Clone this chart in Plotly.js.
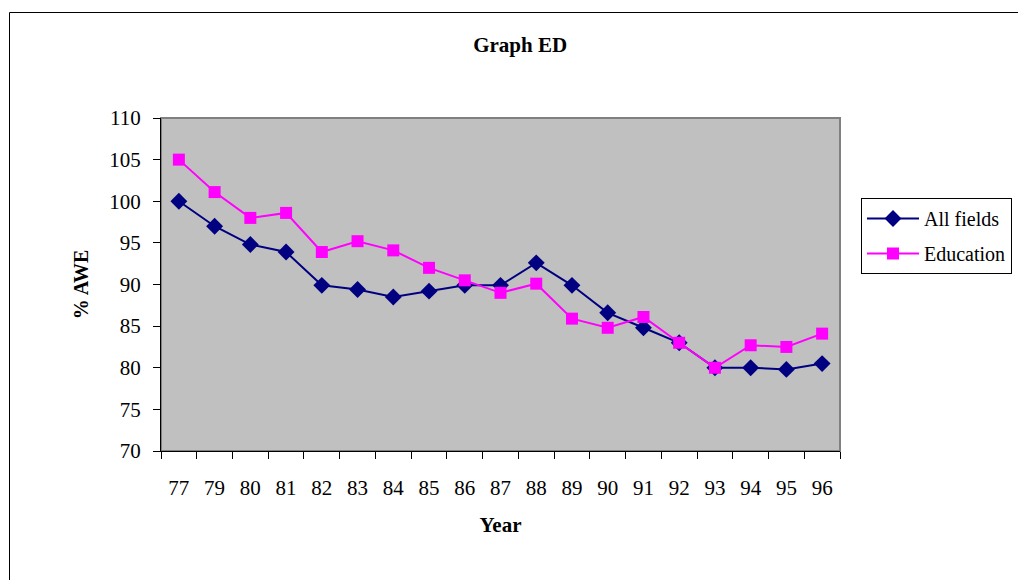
<!DOCTYPE html>
<html>
<head>
<meta charset="utf-8">
<script src="https://cdn.plot.ly/plotly-3.0.1.min.js"></script>
<style>
html,body{margin:0;padding:0;background:#fff;}
#chart{width:1018px;height:580px;}
</style>
</head>
<body>
<div id="chart"></div>
<script>
const years = ['77','79','80','81','82','83','84','85','86','87','88','89','90','91','92','93','94','95','96'];
const allFields = [100, 97.0, 94.8, 93.9, 89.9, 89.4, 88.5, 89.2, 89.9, 89.9, 92.6, 89.9, 86.6, 84.8, 83.0, 80.0, 80.0, 79.8, 80.5];
const education = [105, 101.1, 98.0, 98.6, 93.9, 95.2, 94.1, 92.0, 90.5, 89.0, 90.1, 85.9, 84.8, 86.1, 83.0, 80.0, 82.7, 82.5, 84.1];

const FONT = '"Liberation Serif", "Times New Roman", serif';

const traces = [
  {
    x: years, y: allFields, name: 'All fields', type: 'scatter', mode: 'lines+markers',
    legendgroup: 'a',
    line: {color: '#000080', width: 2},
    marker: {symbol: 'diamond', color: '#000080', size: 13}
  },
  {
    x: years, y: education, name: 'Education', type: 'scatter', mode: 'lines+markers',
    legendgroup: 'b',
    line: {color: '#FF00FF', width: 2},
    marker: {symbol: 'square', color: '#FF00FF', size: 12}
  }
];

const layout = {
  width: 1018, height: 580,
  margin: {l: 161, r: 178, t: 118, b: 129, autoexpand: false},
  paper_bgcolor: '#ffffff',
  plot_bgcolor: '#C0C0C0',
  font: {family: FONT, size: 21, color: '#000'},
  title: {
    text: 'Graph ED', font: {family: FONT, size: 21, color: '#000', weight: 'bold'},
    xref: 'container', x: 0.511, xanchor: 'center',
    yref: 'container', y: 1 - 45/580, yanchor: 'middle'
  },
  xaxis: {
    type: 'category',
    range: [-0.5, 18.5],
    showgrid: false, zeroline: false,
    showline: true, linecolor: '#000', linewidth: 1,
    ticks: 'outside', ticklen: 7, tickcolor: '#000', tickson: 'boundaries',
    tickfont: {family: FONT, size: 21},
    ticklabelstandoff: 18,
    title: {text: 'Year', font: {family: FONT, size: 21, weight: 'bold'}, standoff: 18},
    fixedrange: true
  },
  yaxis: {
    range: [70, 110], dtick: 5, tick0: 70,
    showgrid: false, zeroline: false,
    showline: true, linecolor: '#000', linewidth: 1,
    ticks: 'outside', ticklen: 7, tickcolor: '#000',
    tickfont: {family: FONT, size: 21},
    ticklabelstandoff: 8,
    title: {text: '% AWE', font: {family: FONT, size: 20, weight: 'bold'}, standoff: 15},
    fixedrange: true
  },
  legend: {
    xref: 'container', yref: 'container',
    x: 861/1018, xanchor: 'left',
    y: 1 - 198/580, yanchor: 'top',
    bordercolor: '#000', borderwidth: 1,
    bgcolor: '#fff',
    font: {family: FONT, size: 20},
    itemwidth: 52,
    traceorder: 'grouped',
    tracegroupgap: 6
  },
  showlegend: true,
  shapes: [
    {type: 'rect', xref: 'paper', yref: 'paper', x0: 0, x1: 1, y0: 0, y1: 1,
     line: {color: '#808080', width: 2}, layer: 'below'},
    {type: 'line', xref: 'paper', yref: 'paper',
     x0: (9.5-161)/679, x1: (9.5-161)/679, y0: (451-12.5)/333, y1: (451-600)/333,
     line: {color: '#000', width: 1}},
    {type: 'line', xref: 'paper', yref: 'paper',
     x0: (9.5-161)/679, x1: (1100-161)/679, y0: (451-12.5)/333, y1: (451-12.5)/333,
     line: {color: '#000', width: 1}}
  ]
};

Plotly.newPlot('chart', traces, layout, {displayModeBar: false, staticPlot: true});
</script>
</body>
</html>
